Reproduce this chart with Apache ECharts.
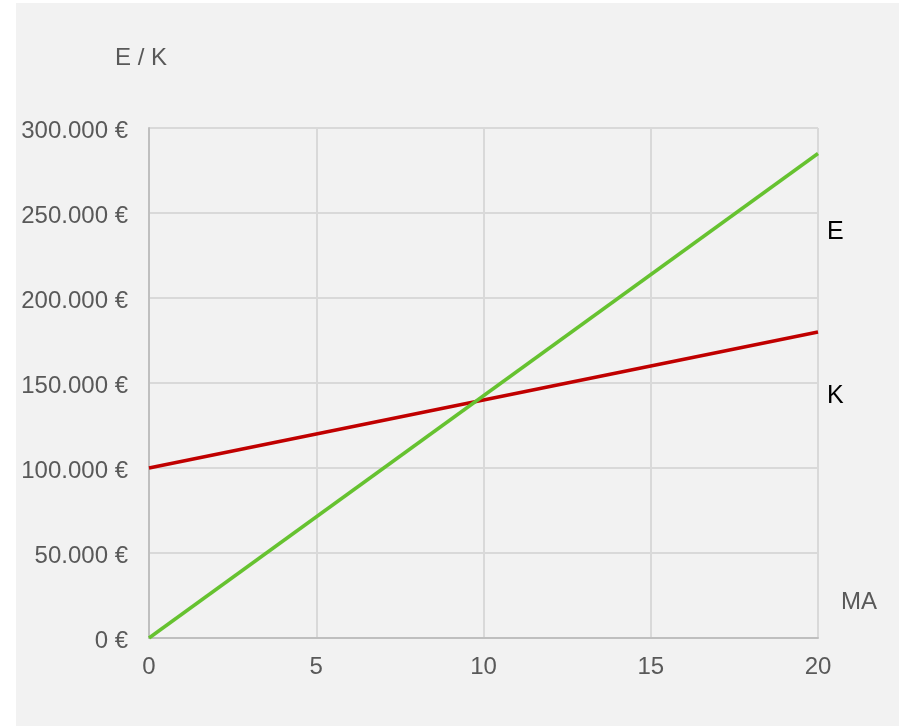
<!DOCTYPE html>
<html>
<head>
<meta charset="utf-8">
<script src="https://cdn.jsdelivr.net/npm/echarts@6/dist/echarts.min.js"></script>
<style>
  html, body { margin: 0; padding: 0; background: #ffffff; }
  #chart { width: 899px; height: 726px; }
</style>
</head>
<body>
<div id="chart"></div>
<script>
// MA values (x) and the two cost/revenue lines
const maPoints = [0, 20];
const erloes = [0, 285000];      // E
const kosten = [100000, 180000]; // K
const xTicks = [0, 5, 10, 15, 20];
const yTicks = [0, 50000, 100000, 150000, 200000, 250000, 300000];

const fmtEuro = v => '{v|' + String(v).replace(/\B(?=(\d{3})+(?!\d))/g, '.') + ' €}';

const chart = echarts.init(document.getElementById('chart'));
const font = 'Liberation Sans, Arial, sans-serif';

chart.setOption({
  backgroundColor: '#ffffff',
  animation: false,
  graphic: [
    { type: 'rect', left: 16, top: 3, shape: { width: 883, height: 723 }, style: { fill: '#f2f2f2' }, z: -10 },
    { type: 'text', left: 115, top: 46, style: { text: 'E / K', font: '24px ' + font, fill: '#595959' } },
    { type: 'text', left: 841, top: 590, style: { text: 'MA', font: '24px ' + font, fill: '#595959' } },
    { type: 'text', left: 827, top: 220, style: { text: 'E', font: '25px ' + font, fill: '#000000' } },
    { type: 'text', left: 827, top: 384, style: { text: 'K', font: '25px ' + font, fill: '#000000' } }
  ],
  grid: { left: 149, right: 81, top: 128, bottom: 88, containLabel: false },
  xAxis: {
    type: 'value',
    min: xTicks[0], max: xTicks[xTicks.length - 1], interval: 5,
    axisLine: { show: true, lineStyle: { color: '#bfbfbf', width: 2 } },
    axisTick: { show: false },
    axisLabel: { margin: 17, fontSize: 24, color: '#595959', fontFamily: font },
    splitLine: { show: true, lineStyle: { color: '#d9d9d9', width: 2 } }
  },
  yAxis: {
    type: 'value',
    min: yTicks[0], max: yTicks[yTicks.length - 1], interval: 50000,
    axisLine: { show: true, lineStyle: { color: '#bfbfbf', width: 2 } },
    axisTick: { show: false },
    axisLabel: {
      margin: 21, color: '#595959', formatter: fmtEuro,
      rich: { v: { fontSize: 24, fontFamily: font, color: '#595959', padding: [6, 0, 0, 0] } }
    },
    splitLine: { show: true, lineStyle: { color: '#d9d9d9', width: 2 } }
  },
  series: [
    {
      name: 'E', type: 'line', showSymbol: false,
      data: maPoints.map((x, i) => [x, erloes[i]]),
      lineStyle: { color: '#66c230', width: 3.5 }, z: 3
    },
    {
      name: 'K', type: 'line', showSymbol: false,
      data: maPoints.map((x, i) => [x, kosten[i]]),
      lineStyle: { color: '#c00000', width: 3.5 }, z: 2
    }
  ]
});
</script>
</body>
</html>
